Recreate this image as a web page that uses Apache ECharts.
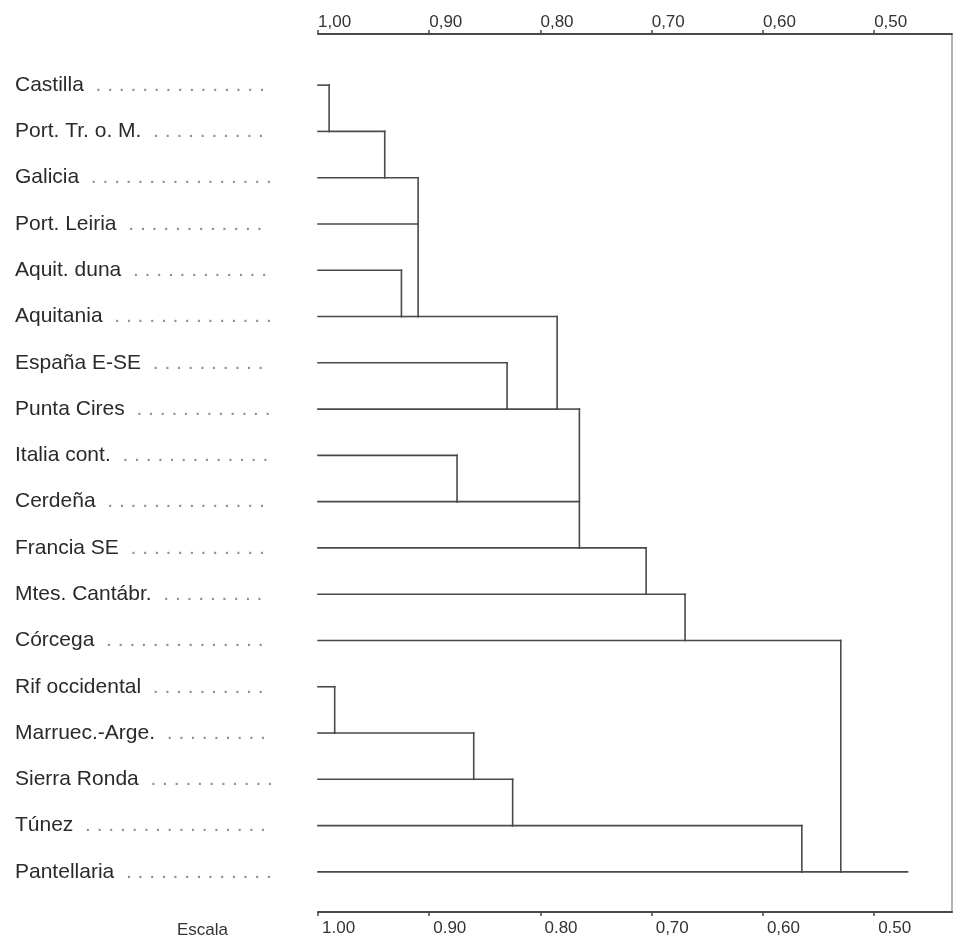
<!DOCTYPE html>
<html>
<head>
<meta charset="utf-8">
<script src="https://cdn.jsdelivr.net/npm/echarts@6/dist/echarts.min.js"></script>
<style>
  html, body { margin: 0; padding: 0; background: #ffffff; }
  #chart { width: 961px; height: 937px; }
</style>
</head>
<body>
<div id="chart"></div>
<script>
// Populations (leaves), top to bottom
const leaves = [
  'Castilla', 'Port. Tr. o. M.', 'Galicia', 'Port. Leiria', 'Aquit. duna',
  'Aquitania', 'España E-SE', 'Punta Cires', 'Italia cont.', 'Cerdeña',
  'Francia SE', 'Mtes. Cantábr.', 'Córcega', 'Rif occidental',
  'Marruec.-Arge.', 'Sierra Ronda', 'Túnez', 'Pantellaria'
];

// Clustering steps: name of the new cluster, its members, similarity level
const mergeNames = ['c1', 'c2', 'c3', 'c4', 'c5', 'c6', 'c7', 'c8', 'c9', 'c10',
                    'c11', 'c12', 'c13', 'c14', 'c15'];
const mergeChildren = [
  ['Castilla', 'Port. Tr. o. M.'],
  ['c1', 'Galicia'],
  ['Aquit. duna', 'Aquitania'],
  ['c2', 'Port. Leiria', 'c3'],
  ['España E-SE', 'Punta Cires'],
  ['c4', 'c5'],
  ['Italia cont.', 'Cerdeña'],
  ['c6', 'c7', 'Francia SE'],
  ['c8', 'Mtes. Cantábr.'],
  ['c9', 'Córcega'],
  ['Rif occidental', 'Marruec.-Arge.'],
  ['c11', 'Sierra Ronda'],
  ['c12', 'Túnez'],
  ['c13', 'Pantellaria'],
  ['c10', 'c14']
];
const mergeLevels = [0.99, 0.94, 0.925, 0.91, 0.83, 0.785, 0.875, 0.765, 0.705, 0.67,
                     0.985, 0.86, 0.825, 0.565, 0.53];
const rootEnd = 0.47;

// Scale ticks
const tickValues = [1.0, 0.9, 0.8, 0.7, 0.6, 0.5];
const topTickLabels = ['1,00', '0,90', '0,80', '0,70', '0,60', '0,50'];
const bottomTickLabels = ['1.00', '0.90', '0.80', '0,70', '0,60', '0.50'];
const scaleName = 'Escala';

// ---- build the elbow segments [x1, row1, x2, row2] ----
const nodes = {};
leaves.forEach((name, i) => { nodes[name] = { row: i, start: 1.0 }; });
const segments = [];
mergeChildren.forEach((kids, k) => {
  const lvl = mergeLevels[k];
  const members = kids.map(n => nodes[n]);
  members.forEach(c => segments.push([c.start, c.row, lvl, c.row]));
  const rows = members.map(c => c.row);
  segments.push([lvl, Math.min(...rows), lvl, Math.max(...rows)]);
  nodes[mergeNames[k]] = { row: Math.max(...rows), start: lvl };
});
const rootNode = nodes[mergeNames[mergeNames.length - 1]];
segments.push([rootNode.start, rootNode.row, rootEnd, rootNode.row]);

// ---- label leaders ----
const FONT = '"Liberation Sans", Arial, Helvetica, sans-serif';
const NAME_SIZE = 21;
const LABEL_WIDTH = 259;
const ctx = document.createElement('canvas').getContext('2d');
ctx.font = NAME_SIZE + 'px ' + FONT;
function leader(name) {
  let dots = ' ';
  while (ctx.measureText(name + dots + ' .').width <= LABEL_WIDTH) dots += ' .';
  return dots;
}

function tickLabel(labels) {
  return v => {
    const i = tickValues.findIndex(t => Math.abs(t - v) < 1e-6);
    return i >= 0 ? labels[i] : '';
  };
}

const GRID_LEFT = 318;
const GRID_RIGHT = 9;
const GRID_TOP = 62;
const GRID_BOTTOM = 41;
const INK = '#4a4a4a';

const chart = echarts.init(document.getElementById('chart'), null, { renderer: 'canvas' });

const axisCommon = {
  type: 'value',
  min: 0.43,
  max: 1.0,
  inverse: true,
  splitLine: { show: false },
  axisLine: { show: true, lineStyle: { color: INK, width: 2 } },
  axisTick: { show: true, length: 4, customValues: tickValues, lineStyle: { color: INK, width: 1.5 } }
};

chart.setOption({
  backgroundColor: '#ffffff',
  animation: false,
  title: {
    text: scaleName,
    left: 172,
    top: 917,
    textStyle: { fontFamily: FONT, fontSize: 17, fontWeight: 'normal', color: '#333' }
  },
  grid: { left: GRID_LEFT, right: GRID_RIGHT, top: GRID_TOP, bottom: GRID_BOTTOM },
  xAxis: [
    Object.assign({}, axisCommon, {
      position: 'top',
      offset: 28,
      axisLabel: {
        customValues: tickValues,
        formatter: tickLabel(topTickLabels),
        align: 'left',
        margin: 3,
        fontFamily: FONT, fontSize: 17, color: '#333'
      }
    }),
    Object.assign({}, axisCommon, {
      position: 'bottom',
      offset: 17,
      axisLabel: {
        customValues: tickValues,
        formatter: tickLabel(bottomTickLabels),
        align: 'left',
        margin: 8,
        padding: [0, 0, 0, 4],
        fontFamily: FONT, fontSize: 17, color: '#333'
      }
    })
  ],
  yAxis: {
    type: 'category',
    data: leaves,
    inverse: true,
    axisLine: { show: false },
    axisTick: { show: false },
    splitLine: { show: false },
    axisLabel: {
      align: 'left',
      margin: GRID_LEFT - 15,
      formatter: v => '{n|' + v + '}{d|' + leader(v) + '}',
      rich: {
        n: { fontFamily: FONT, fontSize: NAME_SIZE, color: '#2a2a2a' },
        d: { fontFamily: FONT, fontSize: NAME_SIZE, color: '#8e8e8e' }
      }
    }
  },
  series: [{
    type: 'custom',
    xAxisIndex: 0,
    yAxisIndex: 0,
    encode: { x: [0, 2], y: [1, 3] },
    data: segments,
    silent: true,
    renderItem: (params, api) => {
      const p1 = api.coord([api.value(0), api.value(1)]);
      const p2 = api.coord([api.value(2), api.value(3)]);
      return {
        type: 'line',
        shape: { x1: p1[0], y1: p1[1], x2: p2[0], y2: p2[1] },
        style: { stroke: INK, lineWidth: 1.6, lineCap: 'square' }
      };
    }
  }]
});

// Right-hand frame between the two scales
const xRight = chart.convertToPixel({ xAxisIndex: 0 }, 0.43);
chart.setOption({
  graphic: [{
    type: 'line',
    shape: { x1: xRight, y1: GRID_TOP - 28, x2: xRight, y2: 937 - GRID_BOTTOM + 17 },
    style: { stroke: '#9a9a9a', lineWidth: 1.5 },
    silent: true
  }]
});
</script>
</body>
</html>
